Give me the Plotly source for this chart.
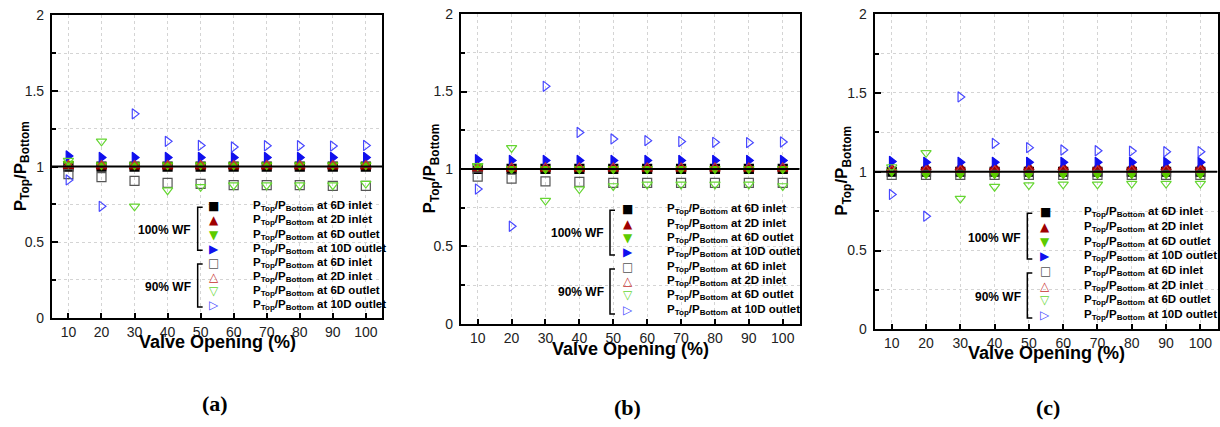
import plotly.graph_objects as go

W, H = 1220, 427

# ---------------- data ----------------
valve = [10, 20, 30, 40, 50, 60, 70, 80, 90, 100]
x_ticks = [10, 20, 30, 40, 50, 60, 70, 80, 90, 100]
y_ticks = [0, 0.5, 1, 1.5, 2]
y_tick_text = ["0", "0.5", "1", "1.5", "2"]
ref_level = 1

# panel (a)
a_100_6d_inlet = [1.00, 1.00, 1.00, 1.00, 1.00, 1.00, 1.00, 1.00, 1.00, 1.00]
a_100_2d_inlet = [1.00, 1.00, 1.00, 1.00, 1.00, 1.00, 1.00, 1.00, 1.00, 1.00]
a_100_6d_outlet = [1.02, 1.01, 1.01, 1.01, 1.01, 1.01, 1.01, 1.01, 1.01, 1.01]
a_100_10d_outlet = [1.07, 1.06, 1.06, 1.06, 1.06, 1.06, 1.06, 1.06, 1.06, 1.06]
a_90_6d_inlet = [0.95, 0.93, 0.905, 0.893, 0.886, 0.877, 0.877, 0.877, 0.873, 0.873]
a_90_2d_inlet = [1.01, 1.01, 1.01, 1.01, 1.01, 1.01, 1.01, 1.01, 1.01, 1.01]
a_90_6d_outlet = [1.04, 1.167, 0.737, 0.844, 0.866, 0.877, 0.877, 0.877, 0.877, 0.888]
a_90_10d_outlet = [0.912, 0.737, 1.349, 1.167, 1.14, 1.13, 1.138, 1.138, 1.136, 1.14]

# panel (b)
b_100_6d_inlet = [1.00, 1.00, 1.00, 1.00, 1.00, 1.00, 1.00, 1.00, 1.00, 1.00]
b_100_2d_inlet = [1.00, 1.00, 1.00, 1.00, 1.00, 1.00, 1.00, 1.00, 1.00, 1.00]
b_100_6d_outlet = [1.02, 1.00, 1.00, 1.00, 1.00, 1.00, 1.00, 1.00, 1.00, 1.00]
b_100_10d_outlet = [1.06, 1.055, 1.055, 1.055, 1.055, 1.055, 1.055, 1.055, 1.055, 1.055]
b_90_6d_inlet = [0.95, 0.938, 0.92, 0.917, 0.91, 0.91, 0.91, 0.91, 0.91, 0.91]
b_90_2d_inlet = [1.01, 1.01, 1.01, 1.01, 1.01, 1.01, 1.01, 1.01, 1.01, 1.01]
b_90_6d_outlet = [1.02, 1.136, 0.796, 0.87, 0.89, 0.90, 0.90, 0.90, 0.90, 0.89]
b_90_10d_outlet = [0.87, 0.63, 1.534, 1.236, 1.194, 1.183, 1.177, 1.172, 1.17, 1.174]

# panel (c)
c_100_6d_inlet = [1.00, 1.00, 1.00, 1.00, 1.00, 1.00, 1.00, 1.00, 1.00, 1.00]
c_100_2d_inlet = [1.02, 1.028, 1.028, 1.028, 1.028, 1.028, 1.028, 1.028, 1.028, 1.028]
c_100_6d_outlet = [1.00, 0.985, 0.985, 0.985, 0.985, 0.985, 0.985, 0.985, 0.985, 0.985]
c_100_10d_outlet = [1.065, 1.06, 1.06, 1.06, 1.06, 1.06, 1.06, 1.06, 1.06, 1.06]
c_90_6d_inlet = [0.98, 0.98, 0.98, 0.98, 0.98, 0.98, 0.98, 0.98, 0.98, 0.98]
c_90_2d_inlet = [1.01, 1.01, 1.01, 1.01, 1.01, 1.01, 1.01, 1.01, 1.01, 1.01]
c_90_6d_outlet = [1.03, 1.12, 0.83, 0.905, 0.915, 0.92, 0.92, 0.925, 0.925, 0.925]
c_90_10d_outlet = [0.856, 0.718, 1.475, 1.18, 1.153, 1.138, 1.133, 1.131, 1.127, 1.127]

legend_labels = [
    "at 6D inlet", "at 2D inlet", "at 6D outlet", "at 10D outlet",
    "at 6D inlet", "at 2D inlet", "at 6D outlet", "at 10D outlet",
]
group_labels = ["100% WF", "90% WF"]
panel_captions = ["(a)", "(b)", "(c)"]
x_title = "Valve Opening (%)"
y_title = "P<sub>Top</sub>/P<sub>Bottom</sub>"
legend_prefix = "P<sub>Top</sub>/P<sub>Bottom</sub>"

# ---------------- styles ----------------
styles = [
    dict(symbol="square", color="#000000", glyph="\u25A0"),
    dict(symbol="triangle-up", color="#a00000", glyph="\u25B2"),
    dict(symbol="triangle-down", color="#5ccc00", glyph="\u25BC"),
    dict(symbol="triangle-right", color="#1010ee", glyph="\u25B6"),
    dict(symbol="square-open", color="#555555", glyph="\u25A1"),
    dict(symbol="triangle-up-open", color="#c83030", glyph="\u25B3"),
    dict(symbol="triangle-down-open", color="#66d633", glyph="\u25BD"),
    dict(symbol="triangle-right-open", color="#4848ff", glyph="\u25B7"),
]

panels_data = [
    [a_100_6d_inlet, a_100_2d_inlet, a_100_6d_outlet, a_100_10d_outlet,
     a_90_6d_inlet, a_90_2d_inlet, a_90_6d_outlet, a_90_10d_outlet],
    [b_100_6d_inlet, b_100_2d_inlet, b_100_6d_outlet, b_100_10d_outlet,
     b_90_6d_inlet, b_90_2d_inlet, b_90_6d_outlet, b_90_10d_outlet],
    [c_100_6d_inlet, c_100_2d_inlet, c_100_6d_outlet, c_100_10d_outlet,
     c_90_6d_inlet, c_90_2d_inlet, c_90_6d_outlet, c_90_10d_outlet],
]

# target pixel layout of each panel (as seen in the picture)
panel_px = [
    dict(x0=52, x1=383, top=14, bottom=316.7, ytitle=(22, 165), xtitle_y=341,
         leg_mx=214, leg_tx=251, leg_y0=205, leg_dy=14.2, br_x=198,
         br1=(206, 249), br2=(263, 306), lab_x=193, lab_y=(229, 286), cap=(215, 403)),
    dict(x0=461.5, x1=801, top=12.7, bottom=322.7, ytitle=(432, 167), xtitle_y=348,
         leg_mx=629, leg_tx=666, leg_y0=208, leg_dy=14.4, br_x=611,
         br1=(209, 254), br2=(268, 313), lab_x=607, lab_y=(232, 291), cap=(629, 410)),
    dict(x0=876, x1=1219.5, top=12.7, bottom=328.3, ytitle=(845, 170), xtitle_y=352,
         leg_mx=1047, leg_tx=1084, leg_y0=211, leg_dy=14.7, br_x=1029,
         br1=(212, 258), br2=(272, 317), lab_x=1025, lab_y=(237, 296), cap=(1050, 413)),
]

# the photographed page shows the figure slightly squeezed vertically;
# map wanted picture rows to figure rows
V_OFF, V_SCALE = 6.5, 0.964


def fy(y):
    return (y - V_OFF) / V_SCALE


def px(x):
    return x / W


def py(y):
    return 1 - fy(y) / H


SANS = "Liberation Sans, Arial, sans-serif"
SERIF = "Liberation Serif, Times New Roman, serif"

fig = go.Figure()
annotations = []
shapes = []

for i, (pdata, pp) in enumerate(zip(panels_data, panel_px)):
    k = "" if i == 0 else str(i + 1)
    xa, ya = "x" + k, "y" + k
    for series, st in zip(pdata, styles):
        fig.add_trace(go.Scatter(
            x=valve, y=series, mode="markers", xaxis=xa, yaxis=ya,
            showlegend=False,
            marker=dict(symbol=st["symbol"], size=9, color=st["color"],
                        line=dict(color=st["color"], width=1.2)),
        ))
    grid = dict(showgrid=True, gridcolor="#d4d4d4", griddash="dot", gridwidth=1)
    fig.update_layout(**{
        "xaxis" + k: dict(
            domain=[px(pp["x0"]), px(pp["x1"])], anchor=ya, range=[5, 105],
            tickvals=x_ticks, ticks="inside", ticklen=5, tickwidth=1.5, tickcolor="#000",
            showline=True, linecolor="#000", linewidth=2, mirror=True, zeroline=False,
            ticklabeloverflow="allow",
            tickfont=dict(family=SANS, size=14, color="#222"), **grid),
        "yaxis" + k: dict(
            domain=[py(pp["bottom"]), py(pp["top"])], anchor=xa, range=[0, 2],
            tickvals=y_ticks, ticktext=y_tick_text, ticks="inside", ticklen=6,
            tickwidth=1.5, tickcolor="#000", ticklabelstandoff=3,
            ticklabeloverflow="allow",
            showline=True, linecolor="#000", linewidth=2, mirror=True, zeroline=False,
            tickfont=dict(family=SANS, size=14, color="#222"),
            minor=dict(dtick=0.25, ticks="inside", ticklen=4, tickcolor="#000",
                       showgrid=True, gridcolor="#d4d4d4", griddash="dot"),
            **grid),
    })
    # reference line at 1
    shapes.append(dict(type="line", xref=xa, yref=ya, x0=5, x1=105,
                       y0=ref_level, y1=ref_level, line=dict(color="#000", width=2)))
    # axis titles
    annotations.append(dict(
        x=px(pp["ytitle"][0]), y=py(pp["ytitle"][1]), xref="paper", yref="paper",
        text=y_title, textangle=-90, showarrow=False, xanchor="center", yanchor="middle",
        font=dict(family=SANS, size=17, color="#000", weight="bold")))
    annotations.append(dict(
        x=px((pp["x0"] + pp["x1"]) / 2), y=py(pp["xtitle_y"]), xref="paper", yref="paper",
        text=x_title, showarrow=False, xanchor="center", yanchor="middle",
        font=dict(family=SANS, size=18, color="#000", weight="bold")))
    # legend
    for r, (st, lab) in enumerate(zip(styles, legend_labels)):
        yy = pp["leg_y0"] + r * pp["leg_dy"]
        annotations.append(dict(
            x=px(pp["leg_mx"]), y=py(yy), xref="paper", yref="paper", text=st["glyph"],
            showarrow=False, xanchor="center", yanchor="middle",
            font=dict(family="DejaVu Sans", size=12, color=st["color"])))
        annotations.append(dict(
            x=px(pp["leg_tx"]), y=py(yy), xref="paper", yref="paper",
            text=legend_prefix + " " + lab,
            showarrow=False, xanchor="left", yanchor="middle",
            font=dict(family=SANS, size=11.5, color="#000", weight="bold")))
    for (b0, b1) in (pp["br1"], pp["br2"]):
        bx = px(pp["br_x"])
        bx2 = px(pp["br_x"] + 5)
        shapes.append(dict(type="path", xref="paper", yref="paper",
                           path=f"M {bx2},{py(b0)} L {bx},{py(b0)} L {bx},{py(b1)} L {bx2},{py(b1)}",
                           line=dict(color="#000", width=1.5)))
    for g, gl in enumerate(group_labels):
        annotations.append(dict(
            x=px(pp["lab_x"]), y=py(pp["lab_y"][g]), xref="paper", yref="paper", text=gl,
            showarrow=False, xanchor="right", yanchor="middle",
            font=dict(family=SANS, size=12, color="#000", weight="bold")))
    # caption (kept inside the canvas)
    cap_y = min(fy(pp["cap"][1]), H - 12)
    annotations.append(dict(
        x=px(pp["cap"][0]), y=1 - cap_y / H, xref="paper", yref="paper",
        text=panel_captions[i], showarrow=False, xanchor="center", yanchor="middle",
        font=dict(family=SERIF, size=22, color="#000", weight="bold")))

fig.update_layout(
    width=W, height=H, margin=dict(l=0, r=0, t=0, b=0),
    paper_bgcolor="white", plot_bgcolor="white",
    annotations=annotations, shapes=shapes, showlegend=False,
)

fig.write_html(
    "out.html",
    config={"displayModeBar": False},
    post_script="document.body.style.margin='0px';document.documentElement.style.overflow='hidden';",
)
